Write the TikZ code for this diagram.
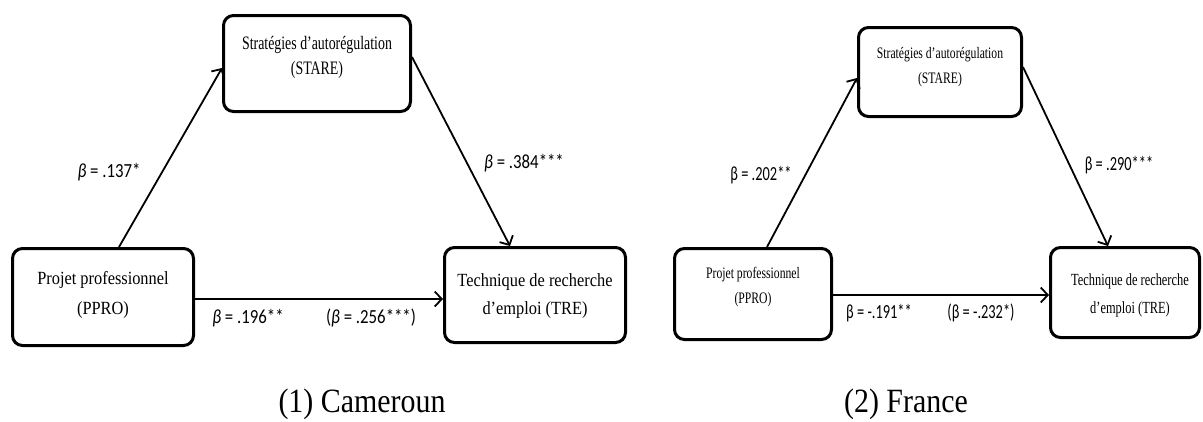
\documentclass[tikz,border=0pt]{standalone}
\usepackage{fontspec}
\usetikzlibrary{positioning,arrows.meta}

\newfontfamily\serifwide[FakeStretch=0.88]{Liberation Serif}
\newfontfamily\serifnarrow[FakeStretch=0.73]{Liberation Serif}
\newfontfamily\capfont[FakeStretch=0.88]{Liberation Serif}
\newfontfamily\calwide[FakeStretch=0.84]{Carlito}
\newfontfamily\calnarrow[FakeStretch=0.72]{Carlito}

\tikzset{
  >={Straight Barb[length=7pt,width=15pt]},
  varbox/.style={draw, line width=3pt, rounded corners=10pt, inner sep=0pt},
  effect/.style={->, line width=1.8pt},
  coefL/.style={inner sep=0pt, font=\calwide\fontsize{20}{22}\selectfont},
  coefR/.style={inner sep=0pt, font=\calnarrow\fontsize{20}{22}\selectfont},
  caption/.style={inner sep=0pt, anchor=base, font=\capfont\fontsize{34}{38}\selectfont}
}

\begin{document}
\begin{tikzpicture}[x=1pt,y=-1pt]
        \useasboundingbox (0,0) rectangle (1203,421);

        % (1) Cameroun: the boxes
        \node[varbox, minimum width=187pt, minimum height=96pt] (stareL) at (317,63.5) {};
        \node[varbox, minimum width=181pt, minimum height=97pt] (pproL) at (103,297) {};
        \node[varbox, minimum width=181pt, minimum height=95pt] (treL) at (535,295) {};

        % the texts in the boxes
        \node[align=center, font=\serifnarrow\fontsize{19}{25}\selectfont] (stareLtxt) at (317,57.5) {Stratégies d’autorégulation\\(STARE)};
        \node[align=center, font=\serifwide\fontsize{18.6}{30}\selectfont] (pproLtxt) at (103,295) {Projet professionnel\\(PPRO)};
        \node[align=center, font=\serifwide\fontsize{18.6}{28}\selectfont] (treLtxt) at (535,296) {Technique de recherche\\d’emploi (TRE)};

        % draw the arrows
        \draw[effect] ([xshift=16pt]pproL.north) -- ([yshift=-4.5pt]stareL.west);
        \draw[effect] ([yshift=6.5pt]stareL.east) -- ([xshift=-25pt]treL.north);
        \draw[effect] ([yshift=-2pt]pproL.east) -- ([yshift=-4pt]treL.west);

        % the coefficients
        \node[coefL] (aL) at (109,172) {\textit{β} = .137*};
        \node[coefL] (bL) at (524,163) {\textit{β} = .384***};
        \node[coefL] (cL) at (248,318) {\textit{β} = .196**};
        \node[coefL] (cpL) at (371,318) {(\textit{β} = .256***)};

        \node[caption] (capL) at (362,412) {(1) Cameroun};

        % (2) France: the boxes
        \node[varbox, minimum width=163pt, minimum height=89pt] (stareR) at (940,72) {};
        \node[varbox, minimum width=157pt, minimum height=91pt] (pproR) at (753,294) {};
        \node[varbox, minimum width=149pt, minimum height=90pt] (treR) at (1125,292.5) {};

        % the texts in the boxes
        \node[align=center, font=\serifnarrow\fontsize{16}{25}\selectfont] (stareRtxt) at (940,67.5) {Stratégies d’autorégulation\\(STARE)};
        \node[align=center, font=\serifnarrow\fontsize{16}{25}\selectfont] (pproRtxt) at (753,287.5) {Projet professionnel\\(PPRO)};
        \node[align=center, font=\serifnarrow\fontsize{17}{28}\selectfont] (treRtxt) at (1130,295) {Technique de recherche\\d’emploi (TRE)};

        % draw the arrows
        \draw[effect] ([xshift=14pt]pproR.north) -- ([yshift=-6pt]stareR.west);
        \draw[effect] ([yshift=5pt]stareR.east) -- ([xshift=-17pt]treR.north);
        \draw[effect] ([yshift=-1pt]pproR.east) -- ([yshift=-2.5pt]treR.west);

        % the coefficients
        \node[coefR] (aR) at (761,175) {β = .202**};
        \node[coefR] (bR) at (1119,165) {β = .290***};
        \node[coefR] (cR) at (879,313) {β = -.191**};
        \node[coefR] (cpR) at (981,313) {(β = -.232*)};

        \node[caption] (capR) at (906,412) {(2) France};

    \end{tikzpicture}
\end{document}
